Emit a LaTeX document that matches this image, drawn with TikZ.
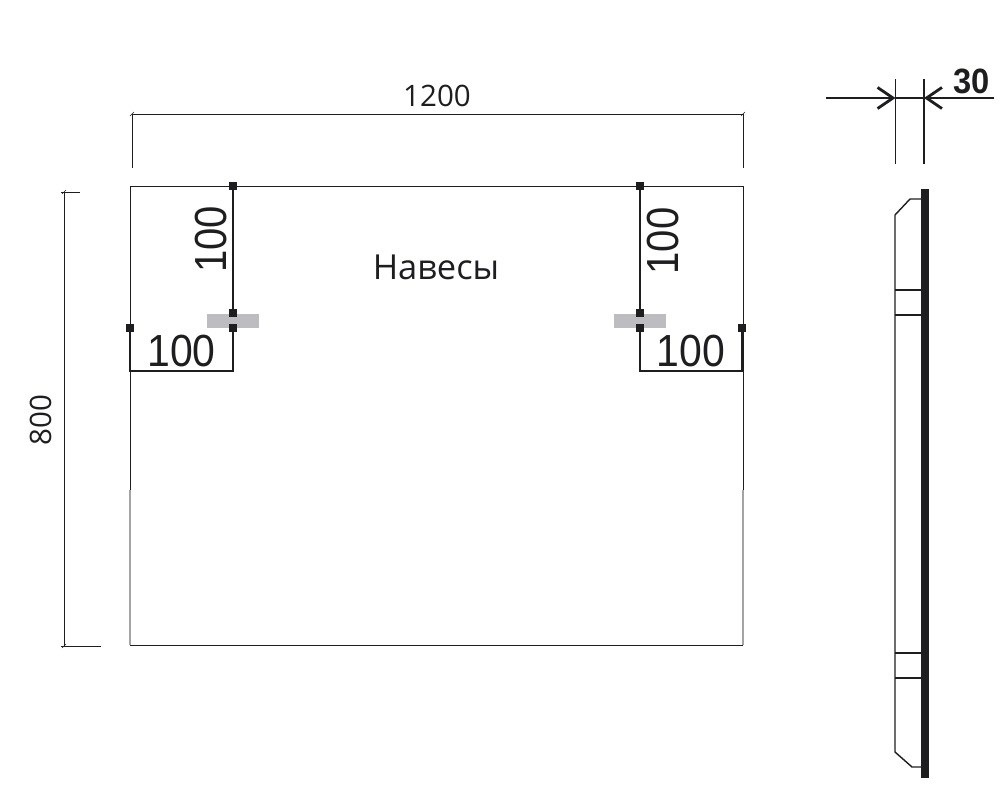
\documentclass[tikz,border=0pt]{standalone}
\usepackage{fontspec}
\setmainfont{Liberation Sans}
\newfontfamily\labelfont{Open Sans}
\usetikzlibrary{arrows.meta, calc}
\definecolor{inkblack}{HTML}{1E1E20}
\definecolor{holdergray}{HTML}{BDBDC1}
\definecolor{fadedgray}{HTML}{A4A4A4}
\tikzset{
    pin/.style={draw=none, fill=inkblack, minimum size=6.2pt, inner sep=0pt, outer sep=0pt},
    dimtext/.style={inner sep=0pt, text=inkblack, font=\fontsize{32}{32}\selectfont},
    thintext/.style={inner sep=0pt, text=inkblack, font=\labelfont\fontsize{21}{21}\selectfont},
    thinline/.style={draw=inkblack, line width=0.6pt},
    dimline/.style={draw=inkblack, line width=1.3pt},
    barb/.style={-{Straight Barb[length=11pt, width=15pt, line width=2pt]}}
}
\newcommand{\hanger}[5]{
    \fill[holdergray] (#2 - 26, 314) rectangle (#2 + 26, 328);
    \node[pin] (#1-t) at (#2, 186) {};
    \node[pin] (#1-u) at (#2, 313) {};
    \node[pin] (#1-d) at (#2, 328) {};
    \node[pin] (#1-e) at (#3, 328) {};
    \coordinate (#1-a) at (#2, 371);
    \coordinate (#1-b) at (#3, 371);
    \draw[dimline] (#1-t) -- (#1-u);
    \draw[dimline, line join=miter] (#1-d) -- (#1-a) -- (#1-b) -- (#1-e);
    \node[dimtext, xscale=0.91] (#1-h) at ($(#2, 351)!0.5!(#3, 351)$) {100};
    \node[dimtext, rotate=90, xscale=0.89] (#1-v) at (#4, #5) {100};
}
\begin{document}
\begin{tikzpicture}[x=0.025cm, y=-0.025cm]
    \useasboundingbox (0, 0) rectangle (1007, 804);
    % front view
    \coordinate (f-tl) at (130, 186);
    \coordinate (f-tr) at (743, 186);
    \coordinate (f-ml) at (130, 490);
    \coordinate (f-mr) at (743, 490);
    \coordinate (f-bl) at (130, 645);
    \coordinate (f-br) at (743, 645);
    \draw[fadedgray, line width=0.9pt] (f-ml) -- (f-bl) (f-mr) -- (f-br);
    \draw[thinline] (f-ml) -- (f-tl) -- (f-tr) -- (f-mr) (f-bl) -- (f-br);
    \hanger{l}{233}{130}{211.5}{239.5}
    \hanger{r}{640}{742}{663.5}{241}
    \node[thintext, font=\labelfont\fontsize{24.5}{24.5}\selectfont] (title) at (436, 267) {Навесы};
    % size 1200
    \coordinate (w-l) at (132, 114);
    \coordinate (w-r) at (743, 114);
    \coordinate (w-ld) at (132, 168);
    \coordinate (w-rd) at (743, 168);
    \draw[thinline] (w-ld) -- (w-l) -- (w-r) -- (w-rd);
    \foreach \x in {132, 743}
        \draw[thinline, line width=0.4pt] (\x - 2, 116) -- (\x + 2, 112);
    \node[thintext] (w) at (437, 96) {1200};
    % size 800
    \coordinate (h-t) at (64, 192);
    \coordinate (h-b) at (64, 646);
    \coordinate (h-te) at (80, 192);
    \coordinate (h-be) at (101, 646);
    \draw[thinline] (h-t) -- (h-b);
    \draw[thinline] (61, 192) -- (h-te) (61, 646) -- (h-be);
    \foreach \y in {192, 646}
        \draw[thinline, line width=0.4pt] (62, \y + 2) -- (66, \y - 2);
    \node[thintext, rotate=90] (h) at (41, 420) {800};
    % side view
    \fill[inkblack] (921, 189) rectangle (929, 778);
    \coordinate (s-a) at (921, 199);
    \coordinate (s-b) at (910, 199);
    \coordinate (s-c) at (895, 215);
    \coordinate (s-d) at (895, 752);
    \coordinate (s-e) at (912, 767);
    \coordinate (s-f) at (921, 767);
    \draw[thinline, line width=1pt] (s-a) -- (s-b) -- (s-c) -- (s-d) -- (s-e) -- (s-f);
    \foreach \y in {290, 315, 653, 678}
        \draw[thinline, line width=0.75pt] (895, \y) -- (921, \y);
    % size 30
    \coordinate (t-lt) at (895.5, 79);
    \coordinate (t-lb) at (895.5, 164);
    \coordinate (t-rt) at (924, 79);
    \coordinate (t-rb) at (924, 164);
    \coordinate (t-l) at (895.5, 98);
    \coordinate (t-r) at (924, 98);
    \coordinate (t-ls) at (826, 98);
    \coordinate (t-rs) at (994, 98);
    \draw[thinline, line width=0.9pt] (t-lt) -- (t-lb) (t-rt) -- (t-rb) (t-l) -- (t-r);
    \draw[dimline, barb] (t-ls) -- (t-l);
    \draw[dimline, barb] (t-rs) -- (t-r);
    \node[inner sep=0pt, text=inkblack, xscale=0.93, font=\bfseries\fontsize{25}{25}\selectfont] (t) at (971.5, 81) {30};
\end{tikzpicture}
\end{document}
